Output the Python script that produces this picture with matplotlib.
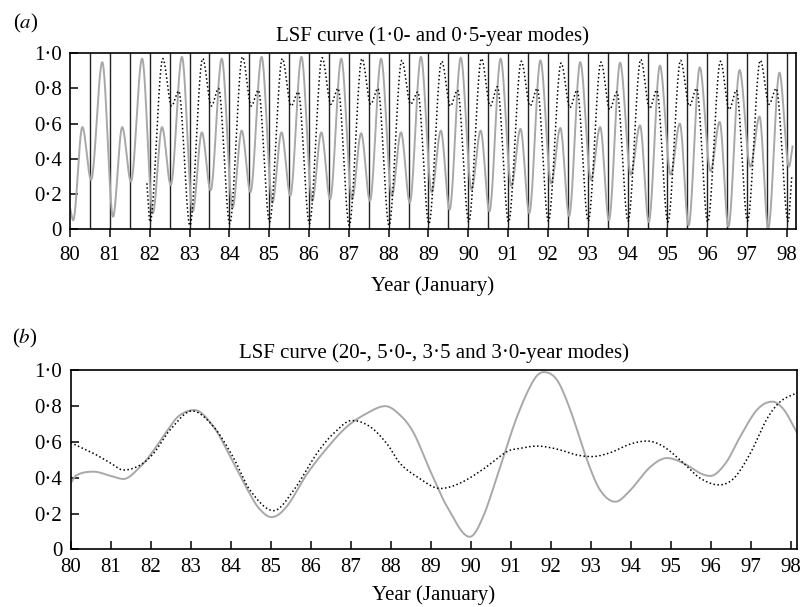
import numpy as np
import matplotlib
matplotlib.use("Agg")
import matplotlib.pyplot as plt

plt.rcParams["font.family"] = ["Liberation Serif", "DejaVu Serif"]
plt.rcParams["font.size"] = 15
plt.rcParams["mathtext.fontset"] = "stix"

# (a) 1.0- and 0.5-year modes: extrema, one cycle per year
years_a = list(range(80, 98))
gray_phase = [0.08, 0.31, 0.53, 0.81]          # trough, low peak, trough, high peak
gray_trough1 = [0.05, 0.07, 0.09, 0.10, 0.12, 0.15, 0.16, 0.17, 0.19,
                0.21, 0.225, 0.245, 0.26, 0.28, 0.31, 0.31, 0.33, 0.355]
gray_peak1 = [0.58, 0.58, 0.58, 0.55, 0.56, 0.55, 0.55, 0.545, 0.55,
              0.56, 0.56, 0.57, 0.575, 0.58, 0.59, 0.60, 0.61, 0.64]
gray_trough2 = [0.28, 0.27, 0.25, 0.22, 0.21, 0.19, 0.17, 0.16, 0.15,
                0.11, 0.10, 0.09, 0.074, 0.05, 0.04, 0.02, 0.013, 0.004]
gray_peak2 = [0.95, 0.97, 0.98, 0.97, 0.98, 0.98, 0.97, 0.97, 0.98,
              0.975, 0.97, 0.96, 0.95, 0.947, 0.93, 0.92, 0.905, 0.89]
gray_start = (80.0, 0.12)
gray_tail = [(98.05, 0.355), (98.14, 0.47)]

years_dot = list(range(82, 98))
dot_phase = [0.01, 0.33, 0.55, 0.73]           # deep trough, peak, dip, bump
dot_trough = [0.04, 0.02, 0.03, 0.04, 0.03, 0.02, 0.02, 0.03,
              0.04, 0.04, 0.045, 0.045, 0.045, 0.04, 0.04, 0.045]
dot_peak = [0.97, 0.97, 0.98, 0.97, 0.975, 0.97, 0.96, 0.955,
            0.97, 0.955, 0.945, 0.95, 0.965, 0.96, 0.955, 0.96]
dot_dip = [0.70, 0.70, 0.70, 0.70, 0.71, 0.71, 0.71, 0.70,
           0.70, 0.70, 0.69, 0.68, 0.685, 0.70, 0.68, 0.71]
dot_bump = [0.785, 0.80, 0.79, 0.78, 0.80, 0.80, 0.78, 0.79,
            0.81, 0.80, 0.79, 0.78, 0.79, 0.80, 0.79, 0.80]
dot_start = (81.93, 0.26)
dot_tail = [(98.03, 0.045), (98.12, 0.30)]

# (b) 20-, 5.0-, 3.5- and 3.0-year modes
b_gray_x = [80.0, 80.15, 80.57, 81.0, 81.32, 81.73, 82.03, 82.4, 82.7, 83.09,
            83.57, 83.98, 84.4, 84.7, 85.02, 85.4, 85.9, 86.4, 86.9, 87.4,
            87.86, 88.23, 88.57, 88.98, 89.4, 89.97, 90.3, 90.73, 91.15, 91.57,
            91.82, 92.15, 92.48, 92.9, 93.23, 93.61, 93.98, 94.48, 94.9, 95.32,
            95.73, 95.98, 96.36, 96.73, 97.15, 97.53, 97.82, 98.15]
b_gray_y = [0.37, 0.415, 0.434, 0.41, 0.393, 0.46, 0.54, 0.66, 0.745, 0.778,
            0.685, 0.52, 0.34, 0.23, 0.18, 0.24, 0.42, 0.565, 0.685, 0.76,
            0.80, 0.75, 0.65, 0.44, 0.24, 0.07, 0.18, 0.46, 0.74, 0.946,
            0.99, 0.946, 0.78, 0.50, 0.33, 0.266, 0.33, 0.46, 0.51, 0.48,
            0.425, 0.41, 0.48, 0.63, 0.78, 0.825, 0.78, 0.65]
b_dot_x = [80.0, 80.57, 80.98, 81.32, 81.73, 82.07, 82.48, 83.03, 83.57, 84.07,
           84.48, 85.07, 85.57, 86.15, 86.57, 87.03, 87.48, 87.9, 88.23, 88.65,
           89.23, 89.73, 90.32, 90.9, 91.23, 91.65, 92.15, 92.65, 93.02, 93.48,
           93.98, 94.4, 94.82, 95.32, 95.73, 96.2, 96.57, 96.98, 97.4, 97.73, 98.15]
b_dot_y = [0.596, 0.536, 0.484, 0.443, 0.47, 0.536, 0.667, 0.773, 0.685, 0.51,
           0.33, 0.216, 0.33, 0.536, 0.648, 0.72, 0.685, 0.59, 0.48, 0.406,
           0.34, 0.37, 0.45, 0.546, 0.564, 0.577, 0.56, 0.527, 0.518, 0.54,
           0.588, 0.605, 0.573, 0.48, 0.397, 0.36, 0.397, 0.536, 0.73, 0.825, 0.875]

x_ticks = list(range(80, 99))
y_ticks = [0, 0.2, 0.4, 0.6, 0.8, 1.0]


def cycle_points(start, years, phase, values, tail):
    pts = [start]
    for i, yr in enumerate(years):
        for f, v in zip(phase, values):
            pts.append((yr + f, v[i]))
    pts += tail
    return np.array(pts)


def smooth(x, y, n=25):
    # cubic Hermite through the read points, flat at local extrema
    x = np.asarray(x, float)
    y = np.asarray(y, float)
    m = np.zeros_like(y)
    for i in range(1, len(x) - 1):
        if (y[i] - y[i - 1]) * (y[i + 1] - y[i]) > 0:
            m[i] = (y[i + 1] - y[i - 1]) / (x[i + 1] - x[i - 1])
    m[0] = (y[1] - y[0]) / (x[1] - x[0])
    m[-1] = (y[-1] - y[-2]) / (x[-1] - x[-2])
    xs, ys = [], []
    for i in range(len(x) - 1):
        h = x[i + 1] - x[i]
        t = np.linspace(0, 1, n, endpoint=False)
        h00 = 2 * t**3 - 3 * t**2 + 1
        h10 = t**3 - 2 * t**2 + t
        h01 = -2 * t**3 + 3 * t**2
        h11 = t**3 - t**2
        xs.append(x[i] + t * h)
        ys.append(h00 * y[i] + h10 * h * m[i] + h01 * y[i + 1] + h11 * h * m[i + 1])
    xs.append([x[-1]])
    ys.append([y[-1]])
    return np.concatenate(xs), np.concatenate(ys)


def ylab(v):
    return "0" if v == 0 else f"{v:.1f}".replace(".", "·")


gray = "#a8a8a8"
fig = plt.figure(figsize=(8.02, 6.07), dpi=100)

# ---- panel (a)
ax1 = fig.add_axes([0.0873, 0.6227, 0.9049, 0.2895])
ga = cycle_points(gray_start, years_a, gray_phase,
                  [gray_trough1, gray_peak1, gray_trough2, gray_peak2], gray_tail)
da = cycle_points(dot_start, years_dot, dot_phase,
                  [dot_trough, dot_peak, dot_dip, dot_bump], dot_tail)
for xv in np.arange(80.5, 98.01, 0.5):
    ax1.axvline(xv, color="#222222", lw=1.0, zorder=1)
sx, sy = smooth(ga[:, 0], ga[:, 1])
ax1.plot(sx, sy, color=gray, lw=1.4, zorder=2)
sx, sy = smooth(da[:, 0], da[:, 1])
ax1.plot(sx, sy, color="k", lw=1.1, ls=(0, (1, 1.6)), zorder=3)
ax1.set_xlim(80, 98.22)
ax1.set_ylim(0, 1.0)
ax1.set_xticks(x_ticks)
ax1.set_yticks(y_ticks)
ax1.set_yticklabels([ylab(v) for v in y_ticks])
ax1.tick_params(axis="x", direction="out", length=6, width=1.1, pad=6.5)
ax1.tick_params(axis="y", direction="in", length=6, width=1.1, pad=6)
ax1.set_title("LSF curve (1·0- and 0·5-year modes)", fontsize=15, pad=9)
ax1.set_xlabel("Year (January)", fontsize=15, labelpad=8)

# ---- panel (b)
ax2 = fig.add_axes([0.0882, 0.095, 0.9052, 0.2949])
sx, sy = smooth(b_gray_x, b_gray_y)
ax2.plot(sx, sy, color=gray, lw=1.4)
sx, sy = smooth(b_dot_x, b_dot_y)
ax2.plot(sx, sy, color="k", lw=1.1, ls=(0, (1, 1.6)))
ax2.set_xlim(80, 98.14)
ax2.set_ylim(0, 1.0)
ax2.set_xticks(x_ticks)
ax2.set_yticks(y_ticks)
ax2.set_yticklabels([ylab(v) for v in y_ticks])
ax2.tick_params(axis="both", direction="in", length=6, width=1.1)
ax2.tick_params(axis="x", pad=6)
ax2.tick_params(axis="y", pad=6)
ax2.set_title("LSF curve (20-, 5·0-, 3·5 and 3·0-year modes)", fontsize=15, pad=9)
ax2.set_xlabel("Year (January)", fontsize=15, labelpad=6)

for ax in (ax1, ax2):
    for s in ax.spines.values():
        s.set_linewidth(1.2)

fig.text(13 / 802, 1 - 28 / 607, r"($a$)", fontsize=15, va="baseline")
fig.text(12 / 802, 1 - 343 / 607, r"($b$)", fontsize=15, va="baseline")

fig.savefig("out.png", dpi=100)
